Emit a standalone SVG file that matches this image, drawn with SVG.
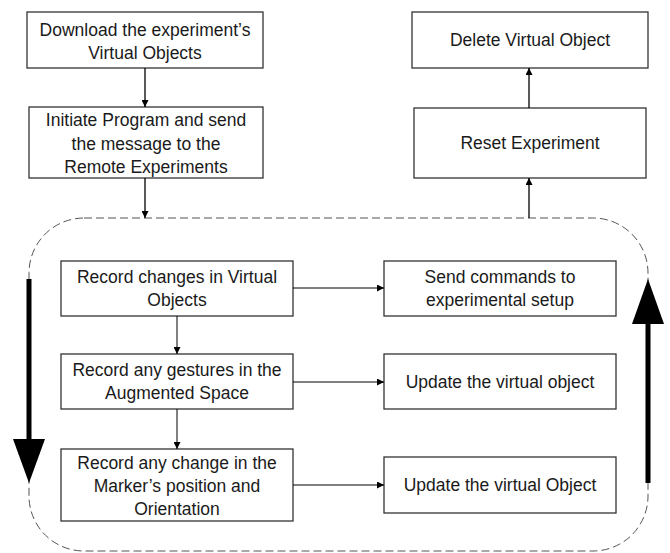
<svg xmlns="http://www.w3.org/2000/svg" width="670" height="553" viewBox="0 0 670 553">
<defs>
<style>
.box{fill:#fff;stroke:#333;stroke-width:1.3}
.t{font-family:"Liberation Sans",Arial,sans-serif;font-size:17.5px;fill:#1a1a1a;text-anchor:middle}
.c{stroke:#000;stroke-width:1.3;fill:none}
.c2{stroke:#000;stroke-width:1;fill:none}
.big{stroke:#000;stroke-width:5;fill:none}
</style>
<marker id="ah" viewBox="0 0 10 10" refX="10" refY="5" markerWidth="7" markerHeight="7" markerUnits="userSpaceOnUse" orient="auto">
<path d="M0,0 L10,5 L0,10 z" fill="#000"/>
</marker>
</defs>
<rect width="670" height="553" fill="#fff"/>
<g id="loop">
<rect x="29" y="218" width="619" height="333" rx="55" ry="55" fill="none" stroke="#555" stroke-width="1" stroke-dasharray="8,4"/>
</g>
<g id="n1"><rect class="box" x="27" y="12" width="236" height="56"/>
<text class="t" x="145" y="36">Download the experiment’s</text>
<text class="t" x="145" y="59">Virtual Objects</text></g>
<g id="n2"><rect class="box" x="29" y="107" width="234" height="71"/>
<text class="t" x="146" y="126">Initiate Program and send</text>
<text class="t" x="146" y="150">the message to the</text>
<text class="t" x="146" y="173">Remote Experiments</text></g>
<g id="n3"><rect class="box" x="412" y="12" width="236" height="56"/>
<text class="t" x="530" y="46">Delete Virtual Object</text></g>
<g id="n4"><rect class="box" x="414" y="108" width="232" height="70"/>
<text class="t" x="530" y="149">Reset Experiment</text></g>
<g id="n5"><rect class="box" x="61" y="261" width="232" height="55"/>
<text class="t" x="177" y="283">Record changes in Virtual</text>
<text class="t" x="177" y="306">Objects</text></g>
<g id="n6"><rect class="box" x="61" y="354" width="232" height="55"/>
<text class="t" x="177" y="376">Record any gestures in the</text>
<text class="t" x="177" y="399">Augmented Space</text></g>
<g id="n7"><rect class="box" x="61" y="449" width="232" height="72"/>
<text class="t" x="177" y="469">Record any change in the</text>
<text class="t" x="177" y="492">Marker’s position and</text>
<text class="t" x="177" y="515">Orientation</text></g>
<g id="n8"><rect class="box" x="384" y="261" width="232" height="55"/>
<text class="t" x="500" y="283">Send commands to</text>
<text class="t" x="500" y="306">experimental setup</text></g>
<g id="n9"><rect class="box" x="384" y="354" width="232" height="55"/>
<text class="t" x="500" y="388">Update the virtual object</text></g>
<g id="n10"><rect class="box" x="384" y="457" width="232" height="56"/>
<text class="t" x="500" y="491">Update the virtual Object</text></g>
<g id="connectors">
<line class="c" x1="145" y1="68" x2="145" y2="107" marker-end="url(#ah)"/>
<line class="c" x1="145" y1="178" x2="145" y2="218" marker-end="url(#ah)"/>
<line class="c" x1="529" y1="218" x2="529" y2="178" marker-end="url(#ah)"/>
<line class="c" x1="529" y1="108" x2="529" y2="68" marker-end="url(#ah)"/>
<line class="c2" x1="177" y1="316" x2="177" y2="354" marker-end="url(#ah)"/>
<line class="c2" x1="177" y1="409" x2="177" y2="449" marker-end="url(#ah)"/>
<line class="c2" x1="293" y1="288" x2="384" y2="288" marker-end="url(#ah)"/>
<line class="c2" x1="293" y1="382" x2="384" y2="382" marker-end="url(#ah)"/>
<line class="c2" x1="293" y1="485" x2="384" y2="485" marker-end="url(#ah)"/>
<line class="big" x1="29" y1="279" x2="29" y2="442"/>
<path d="M13,439 L45,439 L29,483 z" fill="#000"/>
<line class="big" x1="648" y1="321" x2="648" y2="483"/>
<path d="M632,324 L664,324 L648,279 z" fill="#000"/>
</g>
</svg>
